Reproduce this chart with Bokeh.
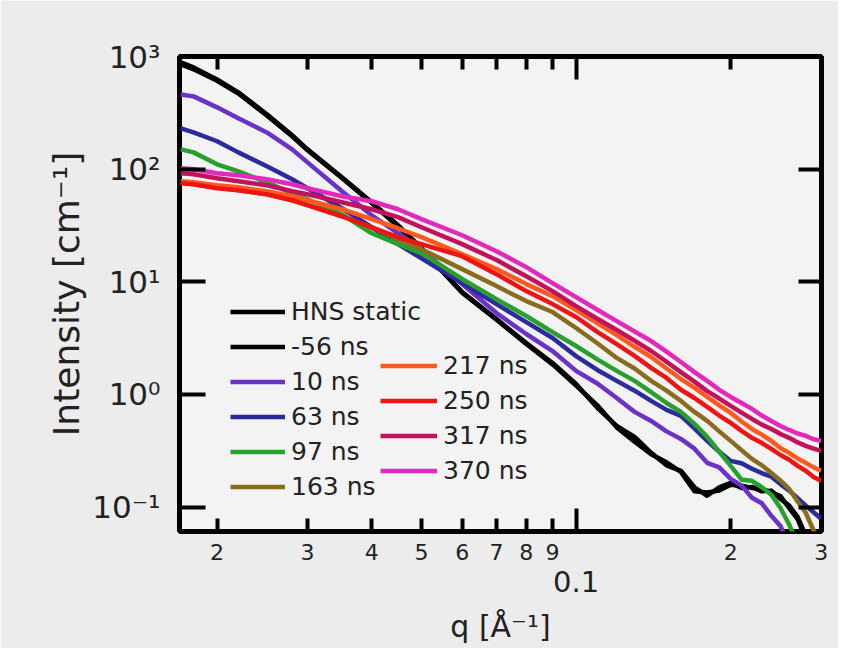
from bokeh.plotting import figure
from bokeh.models import LogAxis, FixedTicker, Legend, LegendItem, Range1d
from bokeh.embed import file_html
from bokeh.resources import INLINE

# ---------------- data ----------------
q = [0.017, 0.018, 0.02, 0.022, 0.025, 0.028, 0.03, 0.035, 0.04, 0.045, 0.05,
     0.06, 0.07, 0.08, 0.09, 0.1, 0.11, 0.12, 0.13, 0.14, 0.15, 0.16, 0.17,
     0.18, 0.19, 0.2, 0.21, 0.22, 0.23, 0.24, 0.25, 0.26, 0.27, 0.28, 0.29,
     0.3]

hns_static = [887, 801, 627, 481, 307, 200, 150, 84.8, 50.9, 31.8, 19.9, 8.12,
              4.67, 2.86, 1.90, 1.24,
              0.76, 0.526, 0.42, 0.303, 0.235, 0.210, 0.150, 0.126, 0.150,
              0.164, 0.148, 0.151, 0.138, 0.140, 0.118, 0.103, 0.082, 0.0557,
              0.038, 0.0272]
t_m56 = [850, 770, 610, 470, 300, 196, 147, 83.5, 50.0, 31.0, 19.5, 8.0, 4.6,
         2.8, 1.85, 1.2,
         0.80, 0.51, 0.38, 0.295, 0.25, 0.205, 0.138, 0.135, 0.14, 0.158,
         0.155, 0.148, 0.145, 0.135, 0.125, 0.098, 0.078, 0.052, 0.036, 0.026]
t_10 = [461, 443, 354, 283, 212, 150, 115, 63.7, 39.0, 27.0, 19.5, 9.54, 5.28,
        3.44, 2.43, 1.62,
        1.25, 0.931, 0.70, 0.582, 0.47, 0.403, 0.33, 0.247, 0.225, 0.178,
        0.155, 0.121, 0.108, 0.0837, 0.068, 0.0454, 0.032, 0.0222, 0.018,
        0.0148]
t_63 = [230, 212, 177, 141, 106, 81.4, 67.7, 45.0, 30.5, 21.6, 16.2, 9.74,
        6.34, 4.39, 3.17, 2.19,
        1.65, 1.32, 1.08, 0.876, 0.73, 0.645, 0.50, 0.387, 0.31, 0.257, 0.245,
        0.219, 0.20, 0.186, 0.16, 0.140, 0.12, 0.103, 0.09, 0.0787]
t_97 = [150, 141, 110.5, 95.8, 76.5, 61.1, 54.1, 39.8, 27.0, 21.6, 18.0, 10.6,
        7.02, 4.97, 3.58, 2.69,
        2.05, 1.62, 1.32, 1.05, 0.84, 0.700, 0.55, 0.420, 0.31, 0.232, 0.175,
        0.171, 0.150, 0.129, 0.098, 0.0697, 0.048, 0.0334, 0.022, 0.0148]
t_163 = [76.5, 73.5, 69.1, 65.0, 59.9, 53.0, 47.9, 38.2, 30.5, 23.9, 19.5,
         12.96, 9.16, 6.74, 5.39, 3.89,
         2.85, 2.11, 1.70, 1.32, 1.08, 0.876, 0.70, 0.582, 0.47, 0.387, 0.32,
         0.268, 0.235, 0.201, 0.172, 0.145, 0.112, 0.0890, 0.062, 0.0454]
t_217 = [78.1, 76.5, 72.0, 69.1, 63.7, 57.5, 53.0, 44.1, 36.0, 29.9, 24.9,
         17.6, 13.0, 9.54, 7.47, 5.61,
         4.30, 3.37, 2.65, 2.15, 1.70, 1.37, 1.15, 0.950, 0.80, 0.686, 0.575,
         0.494, 0.44, 0.387, 0.335, 0.303, 0.27, 0.247, 0.225, 0.210]
t_250 = [75.0, 73.5, 67.7, 65.0, 59.9, 53.0, 47.9, 38.2, 30.5, 24.9, 21.6,
         16.9, 11.7, 8.27, 6.34, 4.87,
         3.60, 2.80, 2.20, 1.72, 1.40, 1.10, 0.93, 0.775, 0.65, 0.559, 0.475,
         0.412, 0.37, 0.329, 0.29, 0.263, 0.232, 0.210, 0.185, 0.171]
t_317 = [92.0, 90.1, 83.0, 78.1, 72.0, 63.7, 59.9, 50.9, 44.1, 37.5, 30.5,
         21.6, 15.6, 11.2, 8.27, 6.09,
         4.70, 3.73, 3.00, 2.43, 1.95, 1.58, 1.30, 1.07, 0.92, 0.791, 0.69,
         0.606, 0.54, 0.494, 0.445, 0.412, 0.375, 0.350, 0.33, 0.316]
t_370 = [102, 99.8, 92.0, 88.3, 81.4, 73.5, 67.7, 57.5, 51.9, 44.1, 36.0,
         25.9, 18.7, 13.5, 9.74, 7.32,
         5.65, 4.48, 3.62, 2.98, 2.40, 1.94, 1.58, 1.32, 1.10, 0.950, 0.84,
         0.744, 0.65, 0.582, 0.525, 0.484, 0.45, 0.429, 0.40, 0.387]

series_names = ["HNS static", "-56 ns", "10 ns", "63 ns", "97 ns", "163 ns",
                "217 ns", "250 ns", "317 ns", "370 ns"]
series_values = [hns_static, t_m56, t_10, t_63, t_97, t_163,
                 t_217, t_250, t_317, t_370]
series_colors = ["#000000", "#000000", "#6a32c8", "#2b2b9e", "#28a02c",
                 "#8a6c1e", "#ff5a1e", "#ee1414", "#c2125c", "#e229bc"]

x_ticks = [0.02, 0.03, 0.04, 0.05, 0.06, 0.07, 0.08, 0.09, 0.2, 0.3]
x_tick_labels = ["2", "3", "4", "5", "6", "7", "8", "9", "2", "3"]
x_decade = [0.1]
x_decade_labels = ["0.1"]
y_ticks = [0.1, 1, 10, 100, 1000]
y_tick_labels = ["10⁻¹", "10⁰", "10¹", "10²", "10³"]
y_title = "Intensity [cm⁻¹]"
x_title = "q [Å⁻¹]"

FONT = "DejaVu Sans"
TXT = "#222222"

p = figure(width=838, height=648, x_axis_type="log", y_axis_type="log",
           x_range=Range1d(0.0169, 0.3005), y_range=Range1d(0.0607, 1001),
           output_backend="svg", toolbar_location=None,
           min_border_left=179, min_border_right=17,
           min_border_top=56, min_border_bottom=117)
p.background_fill_color = "#f3f3f3"
p.border_fill_color = "#ececec"
p.outline_line_color = "black"
p.outline_line_width = 5
p.grid.visible = False

renderers = []
for name, vals, col in zip(series_names, series_values, series_colors):
    r = p.line(q, vals, line_color=col, line_width=4.5, line_join="round")
    renderers.append(r)

# bottom axis: minor digits + long tick at 0.1
xb = p.xaxis[0]
xb.ticker = FixedTicker(ticks=x_ticks, minor_ticks=x_decade)
xb.major_label_overrides = {v: s for v, s in zip(x_ticks, x_tick_labels)}
xb.axis_line_color = None
xb.major_tick_in = 13
xb.major_tick_out = 0
xb.minor_tick_in = 23
xb.minor_tick_out = 0
xb.major_tick_line_width = 4
xb.minor_tick_line_width = 4
xb.major_tick_line_color = "black"
xb.minor_tick_line_color = "black"
xb.major_label_text_font = FONT
xb.major_label_text_font_size = "22px"
xb.major_label_text_color = TXT
xb.major_label_standoff = 12

# second bottom axis: decade label 0.1 and axis title
xb2 = LogAxis(ticker=FixedTicker(ticks=x_decade),
              major_label_overrides={v: s for v, s in zip(x_decade, x_decade_labels)},
              axis_line_color=None, major_tick_line_color=None,
              minor_tick_line_color=None,
              major_label_text_font=FONT, major_label_text_font_size="29px",
              major_label_text_color=TXT, major_label_standoff=2,
              axis_label=x_title, axis_label_text_font=FONT,
              axis_label_text_font_size="30px",
              axis_label_text_font_style="normal",
              axis_label_text_color=TXT, axis_label_standoff=14)
p.add_layout(xb2, "below")

# top axis: ticks only
xt = LogAxis(ticker=FixedTicker(ticks=x_ticks, minor_ticks=x_decade),
             major_label_overrides={v: "" for v in x_ticks},
             axis_line_color=None, major_tick_in=13, major_tick_out=0,
             minor_tick_in=23, minor_tick_out=0,
             major_tick_line_width=4, minor_tick_line_width=4,
             major_label_standoff=0)
p.add_layout(xt, "above")

# left axis
yl = p.yaxis[0]
yl.ticker = FixedTicker(ticks=y_ticks)
yl.major_label_overrides = {v: s for v, s in zip(y_ticks, y_tick_labels)}
yl.axis_line_color = None
yl.major_tick_in = 26
yl.major_tick_out = 0
yl.major_tick_line_width = 4
yl.minor_tick_line_color = None
yl.major_label_text_font = FONT
yl.major_label_text_font_size = "31px"
yl.major_label_text_color = TXT
yl.major_label_standoff = 19
yl.axis_label = y_title
yl.axis_label_text_font = FONT
yl.axis_label_text_font_size = "36px"
yl.axis_label_text_font_style = "normal"
yl.axis_label_text_color = TXT
yl.axis_label_standoff = 2

# right axis: ticks only
yr = LogAxis(ticker=FixedTicker(ticks=y_ticks),
             major_label_overrides={v: "" for v in y_ticks},
             axis_line_color=None, major_tick_in=23, major_tick_out=0,
             major_tick_line_width=4, minor_tick_line_color=None,
             major_label_standoff=0)
p.add_layout(yr, "right")

common = dict(background_fill_alpha=0, border_line_color=None, padding=0,
              margin=0, spacing=0, glyph_height=35, label_height=35,
              label_standoff=6, label_text_font=FONT,
              label_text_font_size="25px", label_text_color=TXT)
leg1 = Legend(items=[LegendItem(label=n, renderers=[r])
                     for n, r in zip(series_names[:6], renderers[:6])],
              location=(51, 27), glyph_width=55, **common)
leg2 = Legend(items=[LegendItem(label=n, renderers=[r])
                     for n, r in zip(series_names[6:], renderers[6:])],
              location=(201, 43), glyph_width=57, **common)
p.add_layout(leg1)
p.add_layout(leg2)

open("out.html", "w").write(file_html(p, INLINE))
